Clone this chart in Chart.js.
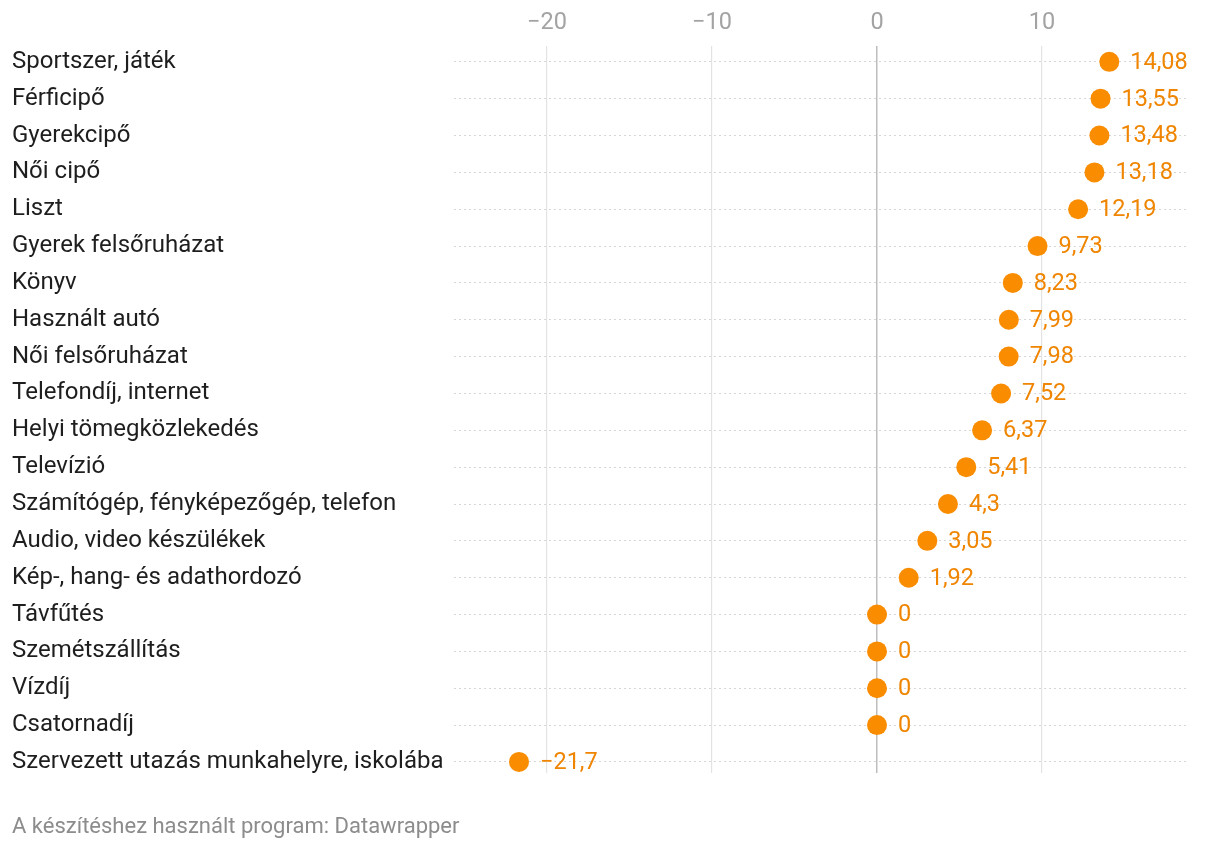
<!DOCTYPE html>
<html lang="hu">
<head>
<meta charset="utf-8">
<script src="https://cdn.jsdelivr.net/npm/chart.js@4"></script>
<style>
    html, body { margin: 0; padding: 0; background: #fff; }
    #wrap { position: relative; width: 1220px; height: 850px; }
    #wrap canvas { position: absolute; left: 0; top: 0; }
    #footer {
        position: absolute; left: 12px; top: 813px;
        font-family: Roboto, sans-serif; font-size: 22px; color: #8c8c8c;
    }
</style>
</head>
<body>
<div id="wrap">
    <canvas id="myChart" width="1220" height="850"></canvas>
    <div id="footer">A készítéshez használt program: Datawrapper</div>
</div>
<script>
// === データ ===
const categories = [
    'Sportszer, játék', 'Férficipő', 'Gyerekcipő', 'Női cipő', 'Liszt',
    'Gyerek felsőruházat', 'Könyv', 'Használt autó', 'Női felsőruházat',
    'Telefondíj, internet', 'Helyi tömegközlekedés', 'Televízió',
    'Számítógép, fényképezőgép, telefon', 'Audio, video készülékek',
    'Kép-, hang- és adathordozó', 'Távfűtés', 'Szemétszállítás', 'Vízdíj',
    'Csatornadíj', 'Szervezett utazás munkahelyre, iskolába'
];
const values = [14.08, 13.55, 13.48, 13.18, 12.19, 9.73, 8.23, 7.99, 7.98, 7.52,
    6.37, 5.41, 4.3, 3.05, 1.92, 0, 0, 0, 0, -21.7];
const xTicks = [-20, -10, 0, 10];

const ORANGE = '#fa8c00';
const LABEL_ORANGE = '#ef8500';
const FONT = 'Roboto, sans-serif';

// 数値を「14,08」形式に変換
const fmt = (v) => (v < 0 ? '\u2212' : '') + String(Math.abs(v)).replace('.', ',');

// 点の右側に値ラベルを描く
const valueLabels = {
    id: 'valueLabels',
    afterDatasetsDraw(chart) {
        const ctx = chart.ctx;
        const meta = chart.getDatasetMeta(0);
        ctx.save();
        ctx.font = '23.5px ' + FONT;
        ctx.fillStyle = LABEL_ORANGE;
        ctx.textAlign = 'left';
        ctx.textBaseline = 'middle';
        meta.data.forEach((pt, i) => {
            ctx.fillText(fmt(values[i]), pt.x + 21, pt.y + 1);
        });
        ctx.restore();
    }
};

new Chart(document.getElementById('myChart'), {
    type: 'scatter',
    data: {
        datasets: [{
            data: values.map((v, i) => ({ x: v, y: i })),
            pointRadius: 10,
            pointHoverRadius: 10,
            pointBackgroundColor: ORANGE,
            pointBorderWidth: 0
        }]
    },
    options: {
        responsive: false,
        animation: false,
        events: [],
        layout: { padding: { left: 12, right: 32, top: 0, bottom: 77 } },
        plugins: { legend: { display: false }, tooltip: { enabled: false } },
        scales: {
            x: {
                position: 'top',
                min: -25.64,
                max: 18.85,
                afterBuildTicks: (scale) => { scale.ticks = xTicks.map(v => ({ value: v })); },
                afterFit: (scale) => { scale.height = 46; },
                ticks: {
                    color: '#a3a3a3',
                    font: { family: FONT, size: 23.5 },
                    padding: 9,
                    callback: (v) => (v < 0 ? '\u2212' + Math.abs(v) : String(v))
                },
                grid: {
                    drawTicks: false,
                    color: (c) => (c.tick && c.tick.value === 0 ? '#bdbdbd' : '#e3e3e3'),
                    lineWidth: (c) => (c.tick && c.tick.value === 0 ? 1.5 : 1.2)
                },
                border: { display: false }
            },
            y: {
                reverse: true,
                min: -0.43,
                max: 19.30,
                afterBuildTicks: (scale) => { scale.ticks = categories.map((c, i) => ({ value: i })); },
                afterFit: (scale) => { scale.width = 442; },
                ticks: {
                    crossAlign: 'far',
                    color: '#1e1e1e',
                    font: { family: FONT, size: 24 },
                    padding: 0,
                    callback: (v) => categories[v]
                },
                grid: {
                    drawTicks: false,
                    color: '#d6d6d6',
                    lineWidth: 1
                },
                border: { display: false, dash: [2, 3] }
            }
        }
    },
    plugins: [valueLabels, {
        id: 'dottedRows',
        beforeDraw(chart) {
            // y軸グリッドを点線にする
            chart.options.scales.y.grid.tickBorderDash = [2, 3];
        }
    }]
});
</script>
</body>
</html>
